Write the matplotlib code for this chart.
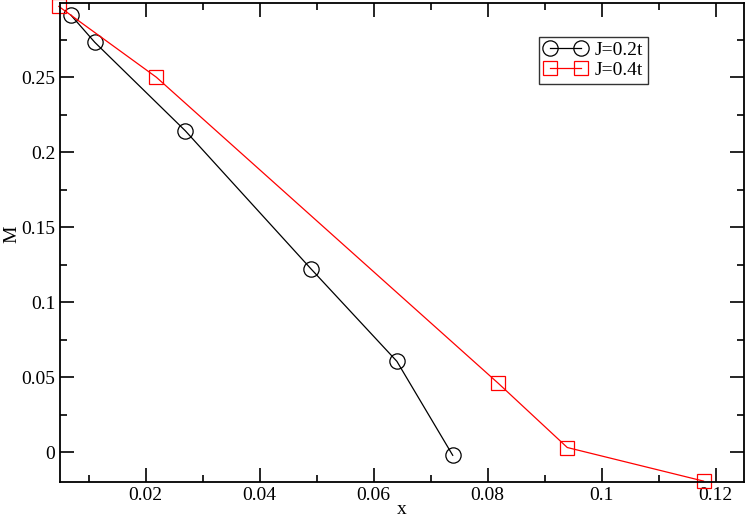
import matplotlib
matplotlib.use("Agg")
import matplotlib.pyplot as plt
from matplotlib.ticker import MultipleLocator, FuncFormatter

plt.rcParams['font.family'] = ['Liberation Serif', 'DejaVu Serif']

x_j02 = [0.0069, 0.0111, 0.0270, 0.0490, 0.0641, 0.0739]
m_j02 = [0.2915, 0.2733, 0.2142, 0.1223, 0.0605, -0.0022]
x_j04 = [0.0048, 0.0219, 0.0819, 0.0940, 0.1179]
m_j04 = [0.2972, 0.2500, 0.0458, 0.0030, -0.0194]
labels = ["J=0.2t", "J=0.4t"]

fig = plt.figure(figsize=(7.47, 5.20), dpi=100)
ax = fig.add_axes([60/747, 1-482/520, (744-60)/747, (482-3)/520])

ax.plot(x_j02, m_j02, color='black', lw=0.9, marker='o', ms=11, mfc='none',
        mec='black', mew=0.9, label=labels[0], clip_on=False)
ax.plot(x_j04, m_j04, color='red', lw=0.9, marker='s', ms=9.5, mfc='none',
        mec='red', mew=0.9, label=labels[1], clip_on=False)

ax.set_xlim(0.005, 0.125)
ax.set_ylim(-0.02, 0.2995)
ax.xaxis.set_major_locator(MultipleLocator(0.02))
ax.xaxis.set_minor_locator(MultipleLocator(0.01))
ax.yaxis.set_major_locator(MultipleLocator(0.05))
ax.yaxis.set_minor_locator(MultipleLocator(0.025))
ax.tick_params(which='both', direction='in', top=True, right=True, labelsize=14, width=1.2)
ax.tick_params(which='major', length=10)
ax.tick_params(which='minor', length=5)
for s in ax.spines.values():
    s.set_linewidth(1.3)

def fmt(v, pos):
    s = f"{v:.3f}".rstrip('0').rstrip('.')
    if s in ('-0', ''):
        s = '0'
    return s
ax.xaxis.set_major_formatter(FuncFormatter(fmt))
ax.yaxis.set_major_formatter(FuncFormatter(fmt))

ax.set_xlabel('x', fontsize=14, labelpad=-2)
fig.text(11.5/747, 1-234/520, 'M', fontsize=14, rotation=90, ha='center', va='center')

leg = ax.legend(loc='upper left', bbox_to_anchor=((539-60)/684, 1-(36.7-3)/479),
                numpoints=2, fontsize=14, frameon=True, fancybox=False,
                edgecolor='black', borderpad=0.25, handlelength=2.2,
                handletextpad=0.4, labelspacing=0.1, borderaxespad=0)
leg.get_frame().set_linewidth(1.0)

fig.savefig('out.png', dpi=100)
